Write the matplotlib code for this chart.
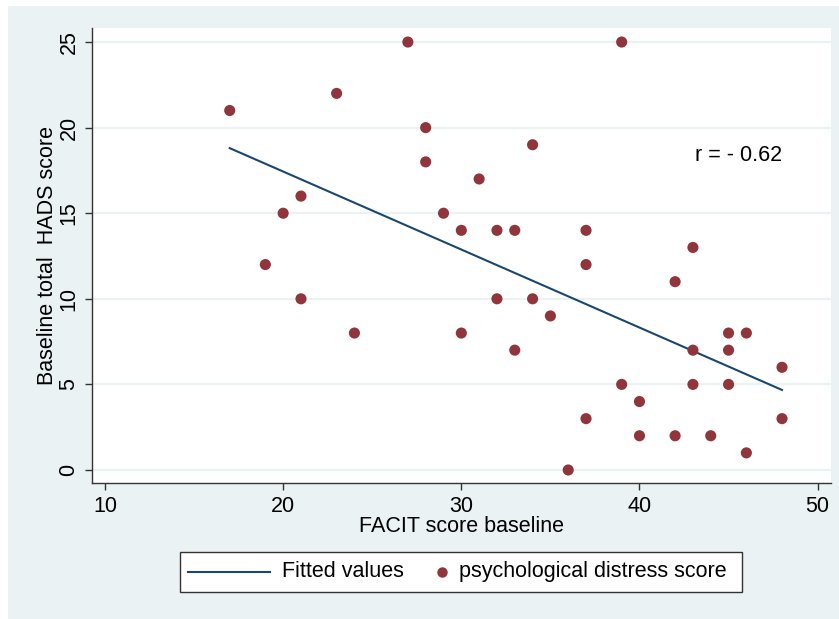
import numpy as np
import matplotlib.pyplot as plt
from matplotlib.patches import Rectangle
from matplotlib.lines import Line2D

plt.rcParams['font.family'] = ['Liberation Sans', 'DejaVu Sans']

# FACIT score baseline vs baseline total HADS score
facit = [17, 19, 20, 21, 21, 23, 24, 27, 28, 28, 29, 30, 30, 31, 32, 32, 33, 33,
         34, 34, 35, 36, 37, 37, 37, 39, 39, 40, 40, 42, 42, 43, 43, 43, 44, 45,
         45, 45, 46, 46, 48, 48]
hads = [21, 12, 15, 16, 10, 22, 8, 25, 20, 18, 15, 14, 8, 17, 14, 10, 14, 7,
        19, 10, 9, 0, 14, 12, 3, 25, 5, 4, 2, 11, 2, 13, 7, 5, 2, 8,
        7, 5, 8, 1, 6, 3]
xticks = [10, 20, 30, 40, 50]
yticks = [0, 5, 10, 15, 20, 25]
r_label = "r = - 0.62"
legend_labels = ["Fitted values", "psychological distress score"]

bg = "#EAF2F3"
navy = "#1A476F"
maroon = "#90353B"
axc = "#333333"
fs = 15.5

W, H = 839, 619
fig = plt.figure(figsize=(W / 100, H / 100), dpi=100)
fig.patches.append(Rectangle((8 / W, 0), 1, 1 - 6 / H, transform=fig.transFigure,
                             facecolor=bg, edgecolor="none", zorder=-10))

ax = fig.add_axes([92 / W, 1 - 483 / H, (831 - 92) / W, (483 - 28) / H])
ax.set_facecolor("white")

# fitted values (OLS)
b, a = np.polyfit(facit, hads, 1)
xs = np.array([min(facit), max(facit)])
ax.plot(xs, a + b * xs, color=navy, lw=1.5, zorder=3)
ax.scatter(facit, hads, s=64, color=maroon, edgecolors="none", zorder=4)

ax.set_xlim(9.27, 50.75)
ax.set_ylim(-0.76, 25.82)
ax.set_xticks(xticks)
ax.set_yticks(yticks)
for y in yticks:
    ax.axhline(y, color=bg, lw=1.6, zorder=1)

for side in ["top", "right"]:
    ax.spines[side].set_visible(False)
for side in ["left", "bottom"]:
    ax.spines[side].set_color(axc)
    ax.spines[side].set_linewidth(1.0)
ax.tick_params(axis="both", direction="out", length=5, width=1.0, color=axc,
               labelsize=fs, labelcolor="black", pad=4)
plt.setp(ax.get_yticklabels(), rotation=90, va="center")

ax.set_xlabel("FACIT score baseline", fontsize=fs, labelpad=0)
ax.set_ylabel("Baseline total  HADS score", fontsize=fs, labelpad=0)

ax.text(43.1, 18.4, r_label, fontsize=fs, ha="left", va="center")

# legend box (Stata style: line handle, then marker right next to its label)
def fx(px):
    return px / W


def fy(py):
    return 1 - py / H


fig.patches.append(Rectangle((fx(180), fy(591.7)), fx(742) - fx(180), fy(551.7) - fy(591.7),
                             transform=fig.transFigure, facecolor="white",
                             edgecolor=axc, lw=1.0, zorder=5))
ly = fy(571.7)
fig.lines.append(Line2D([fx(188), fx(270)], [ly, ly], transform=fig.transFigure,
                        color=navy, lw=1.5, zorder=6))
fig.text(fx(282), ly, legend_labels[0], fontsize=fs, va="center", ha="left", zorder=6)
fig.lines.append(Line2D([fx(441.7)], [ly], transform=fig.transFigure, ls="none",
                        marker="o", ms=7.5, mec="none", color=maroon, zorder=6))
fig.text(fx(459), ly, legend_labels[1], fontsize=fs, va="center", ha="left", zorder=6)

fig.savefig("out.png", dpi=100)
